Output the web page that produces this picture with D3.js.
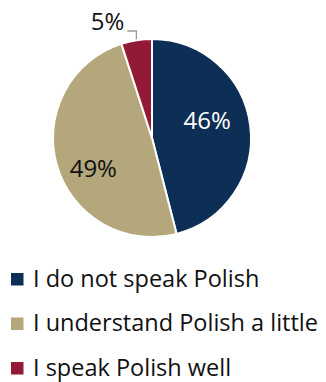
<!DOCTYPE html>
<html>
<head>
<meta charset="utf-8">
<script src="https://cdn.jsdelivr.net/npm/d3@7"></script>
<style>
  html, body { margin: 0; padding: 0; background: #fff; }
  svg { display: block; font-family: "Open Sans", "Noto Sans", sans-serif; }
</style>
</head>
<body>
<svg id="chart" width="326" height="382"></svg>
<script>
// Polish language proficiency shares
const categories = ["I do not speak Polish", "I understand Polish a little", "I speak Polish well"];
const values = [46, 49, 5];
const labels = ["46%", "49%", "5%"];
const colors = ["#0E2F55", "#B3A77B", "#931A36"];
const labelColors = ["#ffffff", "#111111", "#111111"];

const svg = d3.select("#chart");
const cx = 152, cy = 138, R = 99;

const pie = d3.pie().sort(null).value(d => d)(values);
const arc = d3.arc().innerRadius(0).outerRadius(R);

const g = svg.append("g").attr("transform", `translate(${cx},${cy})`);

g.selectAll("path.slice")
  .data(pie)
  .join("path")
  .attr("class", "slice")
  .attr("d", arc)
  .attr("fill", (d, i) => colors[i])
  .attr("stroke", "#fff")
  .attr("stroke-width", 2)
  .attr("stroke-linejoin", "round");

// Inside labels, nudged counter-clockwise from the slice midpoint
const labelShift = -11 * Math.PI / 180;
const labelRadius = [58, 66];
const inside = pie.slice(0, 2);
g.selectAll("text.inlabel")
  .data(inside)
  .join("text")
  .attr("class", "inlabel")
  .each(function (d, i) {
    const a = (d.startAngle + d.endAngle) / 2 + labelShift;
    d3.select(this)
      .attr("x", Math.sin(a) * labelRadius[i])
      .attr("y", -Math.cos(a) * labelRadius[i]);
  })
  .attr("text-anchor", "middle")
  .attr("dy", "0.36em")
  .attr("font-size", 24)
  .attr("fill", (d, i) => labelColors[i])
  .text((d, i) => labels[i]);

// Small slice: outside label with a leader line
const small = pie[2];
const sa = (small.startAngle + small.endAngle) / 2;
const edge = [Math.sin(sa) * (R + 1), -Math.cos(sa) * (R + 1)];
const elbow = [edge[0], -R - 8];
const tail = [elbow[0] - 9, elbow[1]];
g.append("polyline")
  .attr("points", [edge, elbow, tail].map(p => p.join(",")).join(" "))
  .attr("fill", "none")
  .attr("stroke", "#9a9a9a")
  .attr("stroke-width", 1.3);
g.append("text")
  .attr("x", tail[0] - 3)
  .attr("y", tail[1] - 0.7)
  .attr("text-anchor", "end")
  .attr("font-size", 24)
  .attr("fill", labelColors[2])
  .text(labels[2]);

// Legend
const legend = svg.append("g").attr("transform", "translate(11,0)");
const rowY = d3.scalePoint().domain(categories).range([286.5, 375.5]);
const rows = legend.selectAll("g.row")
  .data(categories)
  .join("g")
  .attr("class", "row")
  .attr("transform", d => `translate(0,${rowY(d)})`);
rows.append("rect")
  .attr("x", 0).attr("y", -13.5)
  .attr("width", 12.5).attr("height", 12.5)
  .attr("fill", (d, i) => colors[i]);
rows.append("text")
  .attr("x", 22).attr("y", 0)
  .attr("font-size", 23.5)
  .attr("fill", "#111")
  .text(d => d);
</script>
</body>
</html>
